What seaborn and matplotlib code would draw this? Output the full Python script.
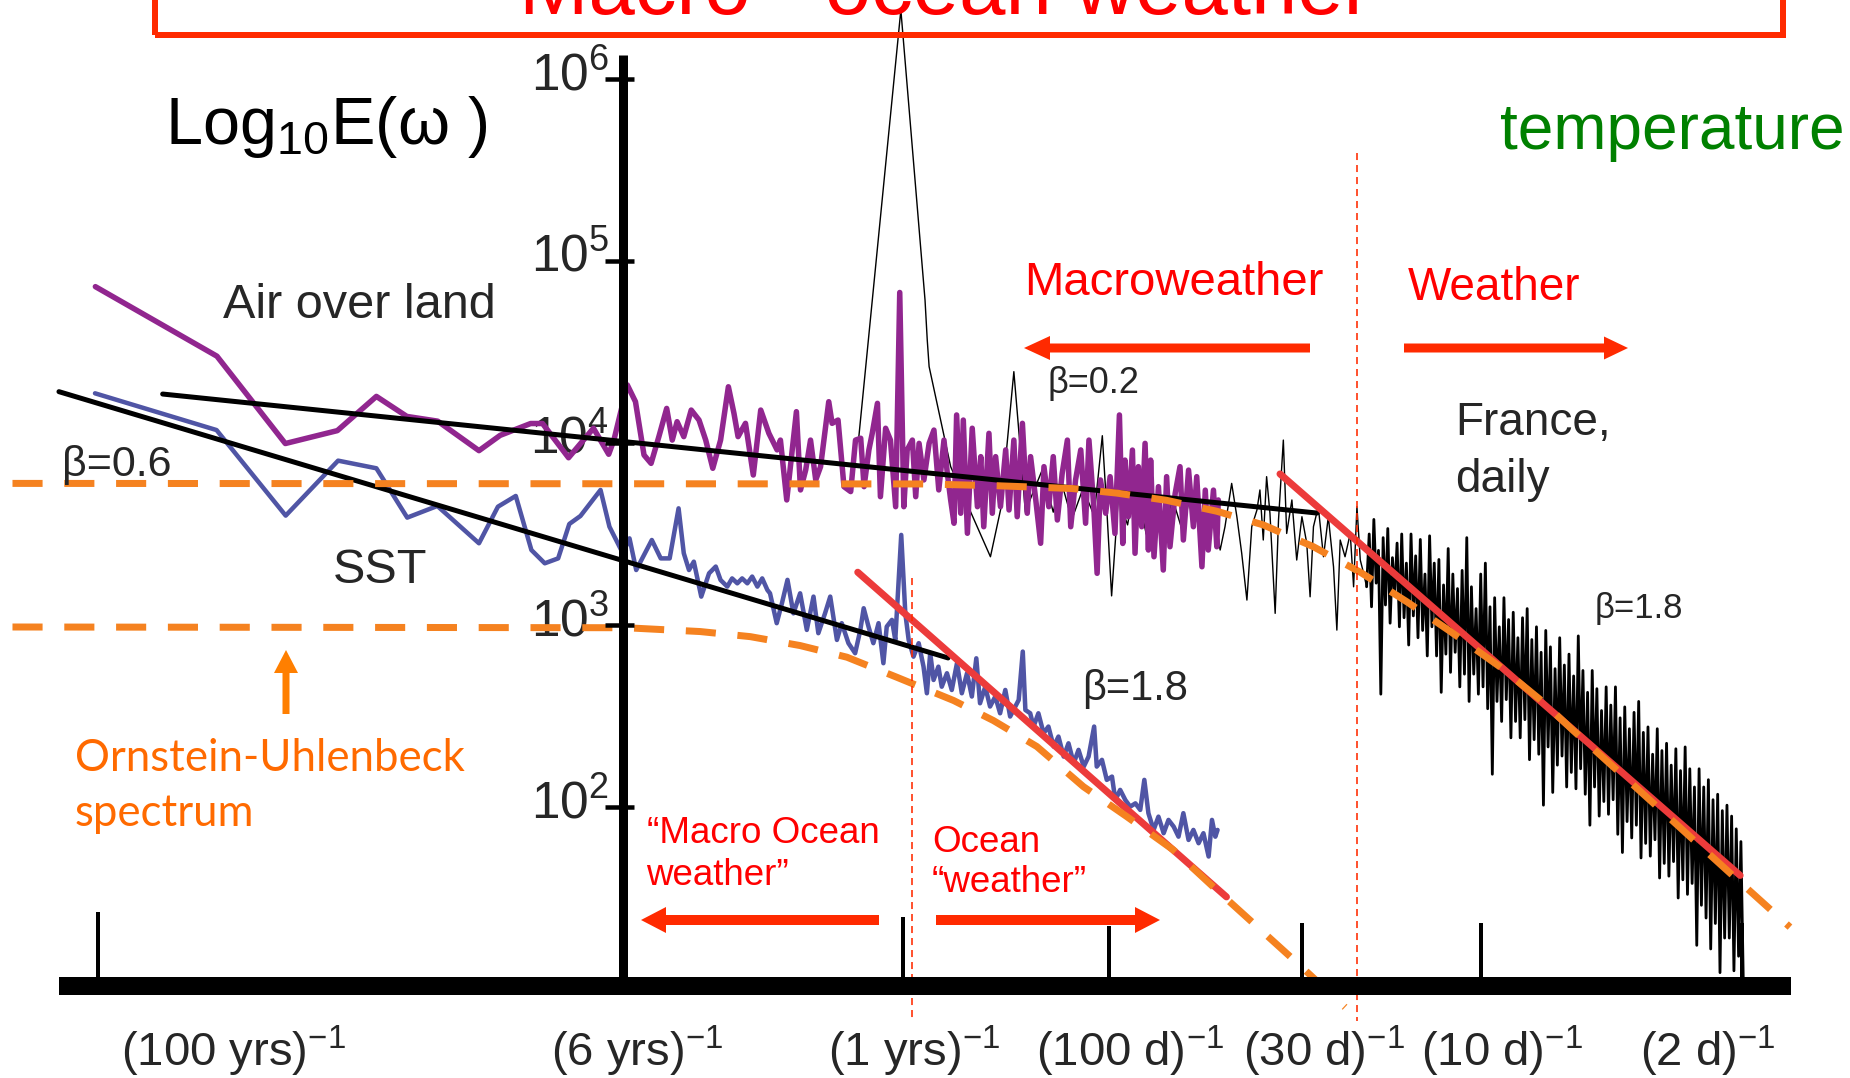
import numpy as np
import matplotlib
matplotlib.use("Agg")
import matplotlib.pyplot as plt
import matplotlib.transforms as mtrans
from matplotlib import font_manager as fm
from matplotlib.patches import Rectangle, FancyArrow
import seaborn as sns

# ---------------- data: log10 frequency (1/day) and log10 E(w) ----------------
air_lf = [-4.727, -4.400, -4.216, -4.076, -3.971, -3.889, -3.806, -3.695, -3.638, -3.556, -3.524, -3.454, -3.387, -3.346, -3.332,
          -3.296, -3.274, -3.251, -3.232, -3.211, -3.190, -3.175, -3.162, -3.144, -3.124, -3.103, -3.085, -3.066, -3.045, -3.024,
          -3.009, -2.998, -2.978, -2.957, -2.937, -2.915, -2.893, -2.884,
          -2.867, -2.841, -2.830, -2.816, -2.803, -2.789, -2.776, -2.754, -2.745, -2.729, -2.713, -2.695, -2.682, -2.668, -2.659,
          -2.646, -2.637, -2.623, -2.615, -2.601, -2.588, -2.574, -2.563, -2.552, -2.543, -2.529, -2.520, -2.511, -2.498, -2.484,
          -2.471, -2.458, -2.444,
          -2.435, -2.426, -2.417, -2.410, -2.399, -2.392, -2.381, -2.368, -2.354, -2.345, -2.337, -2.323, -2.314, -2.305, -2.292,
          -2.278, -2.269, -2.256, -2.247, -2.233, -2.220, -2.211, -2.197, -2.184, -2.175, -2.162, -2.150, -2.139, -2.126, -2.112,
          -2.103, -2.090, -2.076, -2.063, -2.054, -2.041, -2.032, -2.023, -2.009,
          -1.997, -1.984, -1.972, -1.963, -1.957, -1.948, -1.937, -1.930, -1.921, -1.912, -1.903, -1.894, -1.888, -1.879, -1.867,
          -1.854, -1.845, -1.836, -1.822, -1.809, -1.800, -1.786, -1.773, -1.764, -1.750, -1.741, -1.733, -1.719, -1.710, -1.706]
air_lE = [4.859, 4.477, 3.997, 4.068, 4.256, 4.146, 4.120, 3.958, 4.042, 4.107, 4.107, 3.919, 4.081, 3.938, 4.016,
          4.319, 4.227, 3.934, 3.888, 4.035, 4.190, 4.016, 4.117, 4.035, 4.181, 4.126, 4.016, 3.861, 4.016, 4.309,
          4.163, 4.035, 4.108, 3.824, 4.181, 4.053, 3.962, 4.016,
          3.687, 4.172, 3.742, 3.852, 4.016, 3.797, 3.870, 4.227, 4.108, 4.126, 3.760, 3.733, 4.016, 4.026, 3.760,
          3.962, 4.053, 4.218, 3.705, 4.081, 4.016, 3.650, 4.827, 3.650, 3.962, 4.016, 3.705, 3.998, 3.797, 3.998,
          4.071, 3.742, 4.016,
          3.833, 3.687, 3.559, 4.154, 3.614, 4.126, 3.504, 4.081, 3.650, 3.925, 3.540, 4.053, 3.614, 3.925, 3.650,
          3.962, 3.632, 4.016, 3.595, 4.108, 3.614, 3.925, 3.687, 3.449, 3.870, 3.650, 3.925, 3.577, 3.833, 4.016,
          3.540, 3.797, 3.962, 3.559, 4.016, 3.650, 3.284, 3.797, 3.614,
          3.815, 3.503, 4.154, 3.448, 3.906, 3.595, 3.961, 3.394, 3.870, 3.540, 3.998, 3.412, 3.906, 3.375, 3.760,
          3.302, 3.815, 3.430, 3.723, 3.870, 3.467, 3.851, 3.540, 3.815, 3.320, 3.741, 3.412, 3.741, 3.430, 3.687]

sst_lf = [-4.728, -4.401, -4.215, -4.074, -3.971, -3.888, -3.807, -3.695, -3.644, -3.596, -3.554, -3.518, -3.482, -3.452,
          -3.422, -3.368, -3.344, -3.308, -3.290, -3.272, -3.230, -3.206, -3.182, -3.158,
          -3.144, -3.130, -3.117, -3.097, -3.076, -3.058, -3.045, -3.027, -3.014, -3.000, -2.987, -2.973, -2.960, -2.946,
          -2.933, -2.919,
          -2.912, -2.894, -2.880, -2.865, -2.849, -2.831, -2.813, -2.795, -2.782, -2.764,
          -2.750, -2.732, -2.719, -2.701, -2.683, -2.669, -2.660, -2.647, -2.634, -2.620,
          -2.607, -2.598, -2.584, -2.575, -2.559, -2.548, -2.539, -2.526, -2.512, -2.499,
          -2.490, -2.481, -2.472, -2.459, -2.450, -2.436, -2.423, -2.409, -2.396, -2.382,
          -2.369, -2.357, -2.347, -2.333, -2.320, -2.306, -2.293, -2.279, -2.266, -2.252,
          -2.243, -2.232, -2.225, -2.212, -2.203, -2.190, -2.176, -2.163, -2.149, -2.136,
          -2.122, -2.109, -2.095, -2.082, -2.068, -2.055, -2.040, -2.033, -2.019, -2.006,
          -1.992, -1.983, -1.970, -1.956, -1.943, -1.929, -1.916, -1.905, -1.894, -1.880,
          -1.867, -1.853, -1.840, -1.826, -1.813, -1.800, -1.786, -1.773, -1.759, -1.746,
          -1.732, -1.723, -1.714, -1.708]
sst_lE = [4.273, 4.071, 3.601, 3.903, 3.861, 3.590, 3.654, 3.449, 3.650, 3.709, 3.412, 3.339, 3.366, 3.555,
          3.599, 3.742, 3.540, 3.394, 3.476, 3.302, 3.467, 3.366, 3.366, 3.641,
          3.394, 3.302, 3.348, 3.156, 3.284, 3.321, 3.247, 3.211, 3.256, 3.229, 3.256, 3.229, 3.266, 3.211,
          3.256, 3.192,
          3.174, 3.010, 3.119, 3.248, 3.064, 3.174, 2.973, 3.156, 2.955, 3.064,
          3.156, 2.918, 3.010, 2.900, 2.845, 2.973, 3.092, 2.991, 2.900, 3.010,
          2.790, 2.991, 3.028, 2.918, 3.495, 3.064, 2.918, 2.826, 2.900, 2.771,
          2.625, 2.845, 2.698, 2.771, 2.661, 2.735, 2.643, 2.790, 2.625, 2.735,
          2.607, 2.817, 2.570, 2.661, 2.552, 2.607, 2.515, 2.643, 2.497, 2.552,
          2.588, 2.854, 2.533, 2.515, 2.442, 2.515, 2.405, 2.442, 2.332, 2.387,
          2.277, 2.350, 2.240, 2.314, 2.222, 2.277, 2.442, 2.222, 2.259, 2.149,
          2.167, 2.038, 2.094, 2.038, 2.002, 2.020, 1.984, 2.149, 1.966, 1.874,
          1.947, 1.856, 1.929, 1.892, 1.837, 1.966, 1.819, 1.874, 1.801, 1.856,
          1.728, 1.929, 1.837, 1.874]

# France daily: sparse low-frequency part (annual peak), part behind the purple curve, transition part
fr_a_lf = [-2.673, -2.560, -2.495, -2.489, -2.484, -2.426, -2.319, -2.290, -2.256, -2.240, -2.225]
fr_a_lE = [4.035, 6.379, 4.786, 4.566, 4.420, 3.870, 3.375, 3.650, 4.392, 4.000, 3.620]
fr_b_lf = [-2.21, -2.18, -2.15, -2.13, -2.10, -2.07, -2.04, -2.018, -2.005, -1.993, -1.975, -1.95, -1.93, -1.90,
           -1.88, -1.85, -1.83, -1.80, -1.78, -1.75, -1.72]
fr_b_lE = [3.70, 3.85, 3.62, 3.80, 3.58, 3.75, 3.60, 4.04, 3.60, 3.16, 3.70, 3.55, 3.80, 3.50,
           3.72, 3.45, 3.70, 3.50, 3.75, 3.45, 3.65]
fr_c_lf = [-1.701, -1.688, -1.670, -1.656, -1.643, -1.629, -1.616, -1.602, -1.594, -1.585,
           -1.576, -1.567, -1.553, -1.544, -1.531, -1.522, -1.508, -1.495, -1.481, -1.468,
           -1.459, -1.450, -1.437, -1.423, -1.410, -1.396, -1.387, -1.378, -1.365, -1.351,
           -1.342, -1.333, -1.324, -1.315, -1.307]
fr_c_lE = [3.412, 3.540, 3.778, 3.595, 3.394, 3.137, 3.540, 3.632, 3.742, 3.467,
           3.815, 3.613, 3.064, 3.577, 4.016, 3.503, 3.687, 3.357, 3.595, 3.449,
           3.155, 3.540, 3.650, 3.375, 3.595, 3.320, 2.972, 3.467, 3.375, 3.503,
           3.210, 3.650, 3.357, 3.284, 3.210]
# dense high-frequency band: local maxima / minima read every 0.0125 decade from 10^-1.30 to 10^-0.30
fr_d_range = (-1.30, -0.30)
fr_hi = [3.50, 3.58, 3.41, 3.48, 3.53, 3.37, 3.45, 3.50, 3.34, 3.50,
         3.38, 3.47, 3.28, 3.49, 3.34, 3.36, 3.22, 3.42, 3.28, 3.20,
         3.30, 3.48, 3.21, 3.09, 3.28, 3.34, 3.10, 3.15, 2.99, 3.15,
         3.03, 3.07, 2.93, 3.04, 3.09, 2.92, 2.99, 2.85, 2.97, 2.88,
         2.76, 2.93, 2.78, 2.84, 2.72, 2.94, 2.75, 2.63, 2.75, 2.65,
         2.53, 2.66, 2.56, 2.66, 2.49, 2.55, 2.43, 2.52, 2.58, 2.41,
         2.44, 2.29, 2.43, 2.31, 2.35, 2.23, 2.32, 2.20, 2.33, 2.21,
         2.11, 2.21, 2.11, 2.15, 2.04, 2.07, 1.98, 2.01, 1.95, 1.88,
         1.81]
fr_lo = [3.10, 3.23, 2.62, 3.11, 3.01, 3.17, 2.99, 3.04, 2.89, 3.05,
         2.93, 2.97, 2.83, 2.99, 2.83, 2.63, 2.84, 2.74, 2.85, 2.66,
         2.73, 2.58, 2.73, 2.62, 2.66, 2.54, 2.18, 2.58, 2.47, 2.59,
         2.38, 2.47, 2.38, 2.48, 2.26, 2.37, 2.29, 2.01, 2.33, 2.08,
         2.23, 2.28, 2.11, 2.19, 2.10, 2.21, 2.07, 1.90, 2.11, 1.95,
         2.03, 1.96, 2.04, 1.85, 1.75, 1.92, 1.83, 1.90, 1.72, 1.80,
         1.73, 1.82, 1.61, 1.69, 1.62, 1.70, 1.50, 1.60, 1.52, 1.58,
         1.24, 1.46, 1.39, 1.22, 1.36, 1.09, 1.28, 1.28, 1.10, 1.18,
         1.06]

# Ornstein-Uhlenbeck spectra
ou_hi_lf = [-4.95, -2.50, -2.30, -2.10, -1.98, -1.845, -1.71, -1.585, -1.45, -1.324, -1.199, -1.082,
            -0.948, -0.84, -0.751, -0.643, -0.535, -0.428, -0.32, -0.168]
ou_hi_lE = [3.778, 3.775, 3.765, 3.750, 3.725, 3.685, 3.625, 3.550, 3.430, 3.290, 3.128, 2.965,
            2.770, 2.590, 2.420, 2.220, 2.020, 1.820, 1.620, 1.340]
ou_lo_lf = [-4.95, -3.30, -3.100, -2.965, -2.831, -2.705, -2.571, -2.418, -2.311, -2.194, -2.069,
            -1.952, -1.827, -1.719, -1.492, -1.365]
ou_lo_lE = [2.989, 2.985, 2.964, 2.936, 2.887, 2.823, 2.713, 2.585, 2.475, 2.332, 2.112,
            1.947, 1.764, 1.560, 1.140, 0.900]

# power-law fits
air_fit_lf, air_fit_lE = [-4.546, -1.440], [4.269, 3.615]      # beta = 0.2
sst_fit_lf, sst_fit_lE = [-4.825, -2.433], [4.282, 2.819]      # beta = 0.6
ow_fit_lf, ow_fit_lE = [-2.676, -1.684], [3.290, 1.506]        # beta = 1.8 ocean weather
w_fit_lf, w_fit_lE = [-1.540, -0.302], [3.830, 1.624]          # beta = 1.8 weather

# axes / ticks
ytick_exp = [2, 3, 4, 5, 6]
xtick_lf = [-4.72, -2.554, -2.0, -1.481, -1.0, -0.297]
xtick_top = [1.423, 1.396, 1.346, 1.363, 1.363, 1.363]
xtick_labels = ["(100 yrs)", "(6 yrs)", "(1 yrs)", "(100 d)", "(30 d)", "(10 d)", "(2 d)"]
regime_lf = [-2.530, -1.333]
yaxis_lf = -3.3075

# ---------------- style ----------------
sns.set_theme(style="white")
plt.rcParams["font.family"] = ["Liberation Sans", "DejaVu Sans"]
plt.rcParams["mathtext.fontset"] = "custom"
plt.rcParams["mathtext.rm"] = "Liberation Sans"
plt.rcParams["mathtext.it"] = "Liberation Sans:italic"
plt.rcParams["mathtext.bf"] = "Liberation Sans:bold"

avail = {f.name for f in fm.fontManager.ttflist}
NARROW = "Liberation Sans Narrow" in avail
TICK_FAM = ["Liberation Sans Narrow", "Liberation Sans", "DejaVu Sans"] if NARROW else ["Liberation Sans", "DejaVu Sans"]
TICK_FS = 42 if NARROW else 37
BOT_FS = 42 if NARROW else 34
CAL_FAM = ["Lato", "Liberation Sans", "DejaVu Sans"] if "Lato" in avail else ["Liberation Sans", "DejaVu Sans"]

PURPLE = "#91268F"
BLUE = "#5055A5"
ORANGE = "#F58220"
RED_LINE = "#EC3B3B"
RED = "#FF0000"
RED_ARROW = "#FF2A00"
GREEN = "#008000"
ORANGE_TXT = "#FF6A00"

W, H, DPI = 1850, 1078, 100
fig = plt.figure(figsize=(W / DPI, H / DPI), dpi=DPI)
fig.patch.set_facecolor("white")
ax = fig.add_axes([0, 0, 1, 1])
ax.set_xscale("log")
ax.set_yscale("log")
ax.set_facecolor("white")


def P(a):
    return 10 ** np.asarray(a, dtype=float)


def pt(px):
    return px * 72.0 / DPI


# France daily series (assemble parts, dense band drawn as max/min alternation)
n = len(fr_hi)
d_lf = np.linspace(fr_d_range[0], fr_d_range[1], n)
half = 0.5 * (d_lf[1] - d_lf[0])
zz_lf = np.empty(2 * n)
zz_lE = np.empty(2 * n)
zz_lf[0::2] = d_lf
zz_lf[1::2] = d_lf + half
zz_lE[0::2] = fr_hi
zz_lE[1::2] = fr_lo

sns.lineplot(x=P(fr_a_lf + fr_b_lf + fr_c_lf), y=P(fr_a_lE + fr_b_lE + fr_c_lE), ax=ax,
             color="black", linewidth=pt(1.4), estimator=None, sort=False, legend=False, zorder=2)
sns.lineplot(x=P(np.concatenate([[fr_c_lf[-1]], zz_lf])), y=P(np.concatenate([[fr_c_lE[-1]], zz_lE])),
             ax=ax, color="black", linewidth=pt(2.8), estimator=None, sort=False, legend=False, zorder=2)
sns.lineplot(x=P(air_lf), y=P(air_lE), ax=ax, color=PURPLE, linewidth=pt(5.5),
             estimator=None, sort=False, legend=False, zorder=3)
sns.lineplot(x=P(sst_lf), y=P(sst_lE), ax=ax, color=BLUE, linewidth=pt(4.5),
             estimator=None, sort=False, legend=False, zorder=3)

# fits
for lf, lE in [(air_fit_lf, air_fit_lE), (sst_fit_lf, sst_fit_lE)]:
    sns.lineplot(x=P(lf), y=P(lE), ax=ax, color="black", linewidth=pt(5),
                 estimator=None, sort=False, legend=False, zorder=4)
for lf, lE in [(ow_fit_lf, ow_fit_lE), (w_fit_lf, w_fit_lE)]:
    sns.lineplot(x=P(lf), y=P(lE), ax=ax, color=RED_LINE, linewidth=pt(7),
                 estimator=None, sort=False, legend=False, zorder=5)

# OU spectra (dashed)
for lf, lE in [(ou_hi_lf, ou_hi_lE), (ou_lo_lf, ou_lo_lE)]:
    ax.plot(P(lf), P(lE), color=ORANGE, lw=pt(7), dashes=(4.3, 3.1),
            dash_capstyle="butt", zorder=6)

# regime boundaries
ax.plot(P([regime_lf[0]] * 2), P([3.258, 0.824]), color=RED_ARROW, lw=pt(1.6),
        dashes=(4.4, 3.1), zorder=6)
ax.plot(P([regime_lf[1]] * 2), P([5.593, 0.824]), color=RED_ARROW, lw=pt(1.6),
        dashes=(4.4, 3.1), zorder=6)

# axes drawn by hand (diagram style)
ax.plot(P([yaxis_lf, yaxis_lf]), P([1.02, 6.13]), color="black", lw=pt(9),
        solid_capstyle="butt", zorder=7)
ax.plot(P([-4.825, -0.165]), P([1.017, 1.017]), color="black", lw=pt(18),
        solid_capstyle="butt", zorder=7)
ax.hlines(P(ytick_exp), P(yaxis_lf - 0.049), P(yaxis_lf + 0.029), color="black",
          lw=pt(4.5), zorder=7)
ax.vlines(P(xtick_lf), P([1.0] * len(xtick_lf)), P(xtick_top), color="black",
          lw=pt(4), zorder=7)

# y tick labels (under the data curves)
lab_tr = mtrans.offset_copy(ax.transData, fig=fig, x=-14, y=-11, units="dots")
for e in ytick_exp:
    ax.text(P(yaxis_lf), P(e), r"$\mathregular{10^{%d}}$" % e, transform=lab_tr,
            ha="right", va="baseline", fontsize=TICK_FS, family=TICK_FAM, zorder=2.5)


def T(X, Y, s, **kw):
    kw.setdefault("zorder", 10)
    ax.text(X / W, 1 - Y / H, s, transform=fig.transFigure, ha=kw.pop("ha", "left"),
            va=kw.pop("va", "baseline"), **kw)


# bottom frequency labels
xlabel_px = [233, 637, 914, 1130, 1324, 1502, 1708]
for X, s in zip(xlabel_px, xtick_labels):
    T(X, 1066, s + r"$^{\mathregular{-1}}$", ha="center", fontsize=BOT_FS, family=TICK_FAM)

# title box (cut by the top edge, as in the original slide)
fig.add_artist(Rectangle((155, H - 34.5), 1628, 300, fill=False, edgecolor=RED_ARROW,
                         lw=pt(6), transform=mtrans.IdentityTransform(), zorder=1))
T(519, 14, "Macro - ocean weather", fontsize=60, color=RED)

# annotations
T(165, 144, r"Log$_{\mathregular{10}}$E(ω )", fontsize=48, color="black")
T(1500, 149, "temperature", fontsize=46, color=GREEN)
T(223, 318, "Air over land", fontsize=35)
T(333, 583, "SST", fontsize=35)
T(62, 476, "β=0.6", fontsize=31)
T(1048, 393, "β=0.2", fontsize=26)
T(1082, 700, "β=1.8", fontsize=30)
T(1595, 618, "β=1.8", fontsize=25)
T(1024, 295, "Macroweather", fontsize=34, color=RED)
T(1408, 300, "Weather", fontsize=33, color=RED)
T(1455, 435, "France,", fontsize=33)
T(1455, 492, "daily", fontsize=33)
T(75, 771, "Ornstein-Uhlenbeck", fontsize=31.5, color=ORANGE_TXT, family=CAL_FAM)
T(75, 826, "spectrum", fontsize=31.5, color=ORANGE_TXT, family=CAL_FAM)
T(647, 843, "“Macro Ocean", fontsize=26.5, color=RED)
T(646, 885, "weather”", fontsize=26.5, color=RED)
T(932, 852, "Ocean", fontsize=26.5, color=RED)
T(932, 892, "“weather”", fontsize=26.5, color=RED)


def harrow(x0, x1, Y, shaft, hw, hl, color):
    fig.add_artist(FancyArrow(x0, H - Y, x1 - x0, 0, width=shaft, head_width=hw, head_length=hl,
                              length_includes_head=True, color=color, lw=0,
                              transform=mtrans.IdentityTransform(), zorder=9))


harrow(1310, 1024, 348, 9, 24, 26, RED_ARROW)
harrow(1404, 1628, 348, 9, 23, 24, RED_ARROW)
harrow(879, 641, 920, 10, 26, 25, RED_ARROW)
harrow(936, 1160, 920, 10, 26, 25, RED_ARROW)
fig.add_artist(FancyArrow(286, H - 714, 0, 64, width=7, head_width=24, head_length=23,
                          length_includes_head=True, color="#FF7F00", lw=0,
                          transform=mtrans.IdentityTransform(), zorder=9))

ax.set_xlim(10 ** -4.9836, 10 ** -0.0065)
ax.set_ylim(10 ** 0.511, 10 ** 6.434)
ax.axis("off")

fig.savefig("out.png", dpi=DPI, facecolor="white")
